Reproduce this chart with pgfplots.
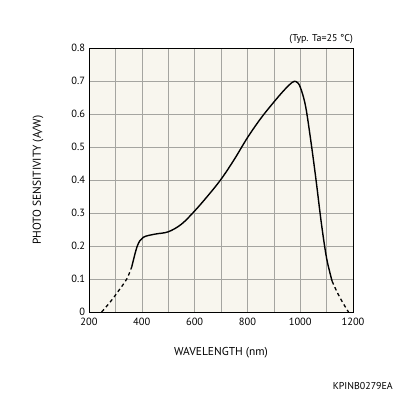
\documentclass[border=0pt]{standalone}
\usepackage{pgfplots}
\pgfplotsset{compat=1.18}
\usepackage{fontspec}
\setmainfont{PT Sans}
\definecolor{bg}{RGB}{248,246,238}
\definecolor{gridc}{RGB}{165,165,160}
\begin{document}
\begin{tikzpicture}[x=1bp,y=1bp]
\useasboundingbox (0,0) rectangle (396,396);
\begin{axis}[
  at={(89bp,84bp)}, anchor=south west,
  scale only axis, width=264bp, height=264bp,
  xmin=200, xmax=1200, ymin=0, ymax=0.8,
  xtick={200,400,...,1200}, minor xtick={300,500,...,1100},
  ytick={0,0.1,...,0.8},
  grid=both,
  major grid style={gridc, line width=0.5pt},
  minor grid style={gridc, line width=0.5pt},
  major tick length=0pt, minor tick length=0pt,
  axis line style={black, line width=0.9pt},
  axis background/.style={fill=bg},
  /pgf/number format/assume math mode=true,
  /pgf/number format/set thousands separator={},
  ticklabel style={font=\fontsize{10.5}{12}\selectfont},
  xticklabel style={yshift=-2.5pt},
  yticklabel style={/pgf/number format/fixed, xshift=-0.5pt},
  xlabel={WAVELENGTH (nm)},
  ylabel={PHOTO SENSITIVITY (A/W)},
  label style={font=\fontsize{11.5}{13}\selectfont},
  xlabel style={at={(axis description cs:0.5,0)}, anchor=center, yshift=-41bp},
  ylabel style={at={(axis description cs:0,0.5)}, anchor=center, yshift=51bp},
  clip=false,
]
\addplot[black, line width=1.3pt, dash pattern=on 3.5pt off 3pt, smooth] coordinates {
(248,0) (280,0.03) (310,0.062) (343,0.1) (362,0.137)};
\addplot[black, line width=1.4pt, smooth, tension=0.55] coordinates {
(362,0.137) (383,0.2) (405,0.226) (450,0.236) (500,0.243)
(550,0.266) (600,0.306) (650,0.352) (700,0.402) (750,0.462) (800,0.528)
(850,0.586) (900,0.636) (940,0.673) (970,0.696) (985,0.698) (1000,0.682)
(1020,0.625) (1040,0.52) (1060,0.4) (1080,0.27) (1100,0.163) (1121,0.093)};
\addplot[black, line width=1.3pt, dash pattern=on 3.5pt off 3pt, smooth] coordinates {
(1121,0.093) (1140,0.06) (1160,0.03) (1183,0)};
\node[anchor=south east, font=\fontsize{10}{11}\selectfont, inner sep=0pt] at (rel axis cs:1,1) [yshift=4bp] {(Typ. Ta=25 °C)};
\end{axis}
\node[anchor=base east, font=\fontsize{10}{11}\selectfont, inner sep=0pt] at (393,7) {KPINB0279EA};
\end{tikzpicture}
\end{document}
